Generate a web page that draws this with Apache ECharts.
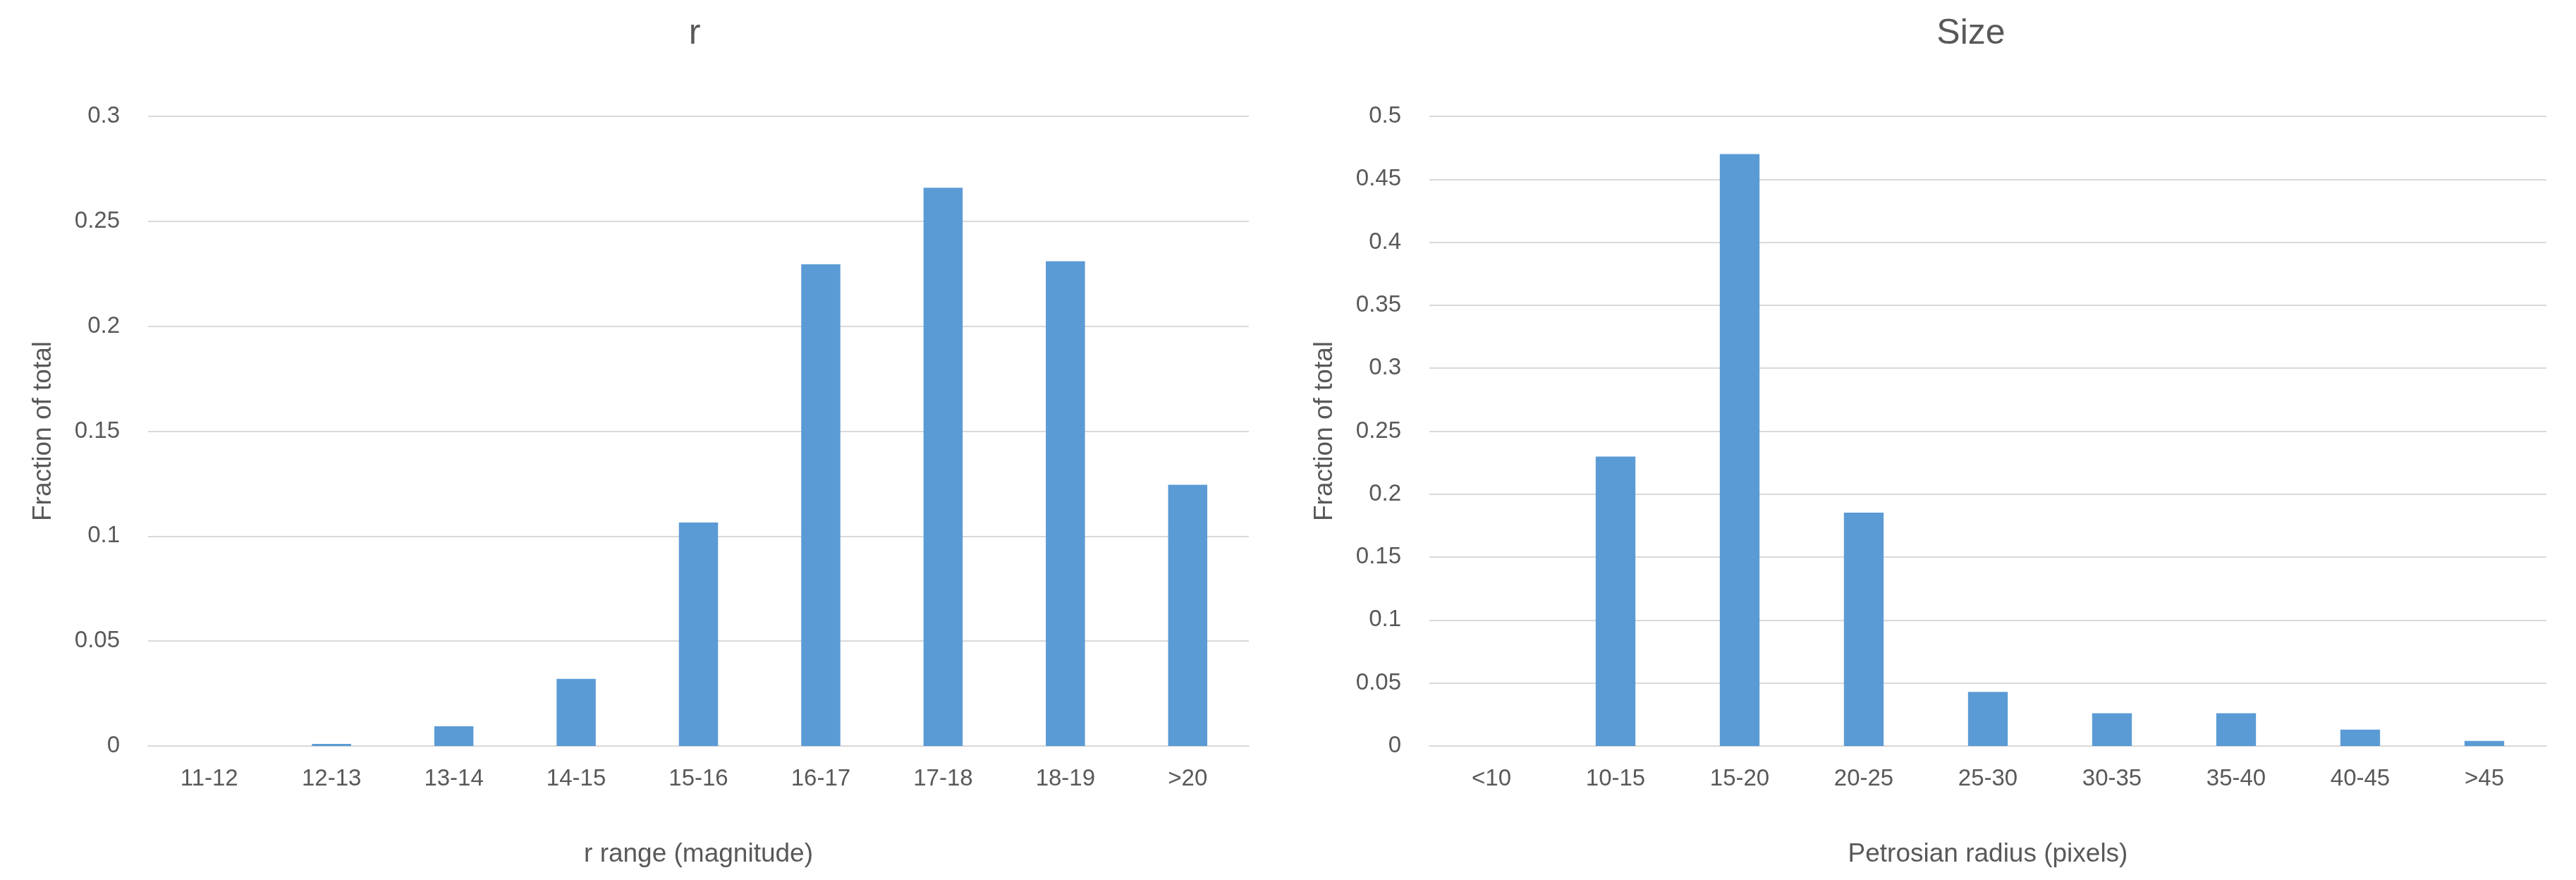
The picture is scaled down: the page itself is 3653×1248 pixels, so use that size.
<!DOCTYPE html>
<html><head><meta charset="utf-8">
<script src="https://cdn.jsdelivr.net/npm/echarts@6/dist/echarts.min.js"></script>
<style>html,body{margin:0;padding:0;background:#fff}#c{width:3653px;height:1248px}</style>
</head><body><div id="c"></div>
<script>
const rCategories = ['11-12','12-13','13-14','14-15','15-16','16-17','17-18','18-19','>20'];
const rValues = [0, 0.001, 0.0094, 0.032, 0.1065, 0.2295, 0.266, 0.231, 0.1245];
const sizeCategories = ['<10','10-15','15-20','20-25','25-30','30-35','35-40','40-45','>45'];
const sizeValues = [0, 0.2298, 0.47, 0.1854, 0.043, 0.026, 0.026, 0.013, 0.004];

const font = 'Liberation Sans';
const txt = '#595959';
function yAxis(idx, max) {
  return {gridIndex: idx, type: 'value', min: 0, max: max, interval: 0.05,
    name: 'Fraction of total', nameLocation: 'middle', nameGap: 130,
    nameTextStyle: {fontFamily: font, fontSize: 37, color: txt},
    axisLabel: {fontFamily: font, fontSize: 33, color: txt, margin: 40},
    axisLine: {show: false}, axisTick: {show: false},
    splitLine: {lineStyle: {color: '#d9d9d9', width: 2}}};
}
function xAxis(idx, cats, name) {
  return {gridIndex: idx, type: 'category', data: cats, name: name,
    nameLocation: 'middle', nameGap: 135,
    nameTextStyle: {fontFamily: font, fontSize: 37, color: txt},
    axisLabel: {fontFamily: font, fontSize: 33, color: txt, margin: 30},
    axisLine: {lineStyle: {color: '#d9d9d9', width: 2}}, axisTick: {show: false}};
}
const chart = echarts.init(document.getElementById('c'));
chart.setOption({
  backgroundColor: '#fff',
  animation: false,
  title: [
    {text: 'r', left: 980, top: 18, textAlign: 'center', textStyle: {fontFamily: font, fontSize: 50, fontWeight: 'normal', color: txt}},
    {text: 'Size', left: 2790, top: 18, textAlign: 'center', textStyle: {fontFamily: font, fontSize: 50, fontWeight: 'normal', color: txt}}
  ],
  grid: [
    {left: 210, top: 165, width: 1561, height: 893},
    {left: 2027, top: 165, width: 1584, height: 893}
  ],
  xAxis: [xAxis(0, rCategories, 'r range (magnitude)'), xAxis(1, sizeCategories, 'Petrosian radius (pixels)')],
  yAxis: [yAxis(0, 0.3), yAxis(1, 0.5)],
  series: [
    {type: 'bar', xAxisIndex: 0, yAxisIndex: 0, data: rValues, barWidth: '32%', itemStyle: {color: '#5b9bd5'}},
    {type: 'bar', xAxisIndex: 1, yAxisIndex: 1, data: sizeValues, barWidth: '32%', itemStyle: {color: '#5b9bd5'}}
  ]
});
</script></body></html>
